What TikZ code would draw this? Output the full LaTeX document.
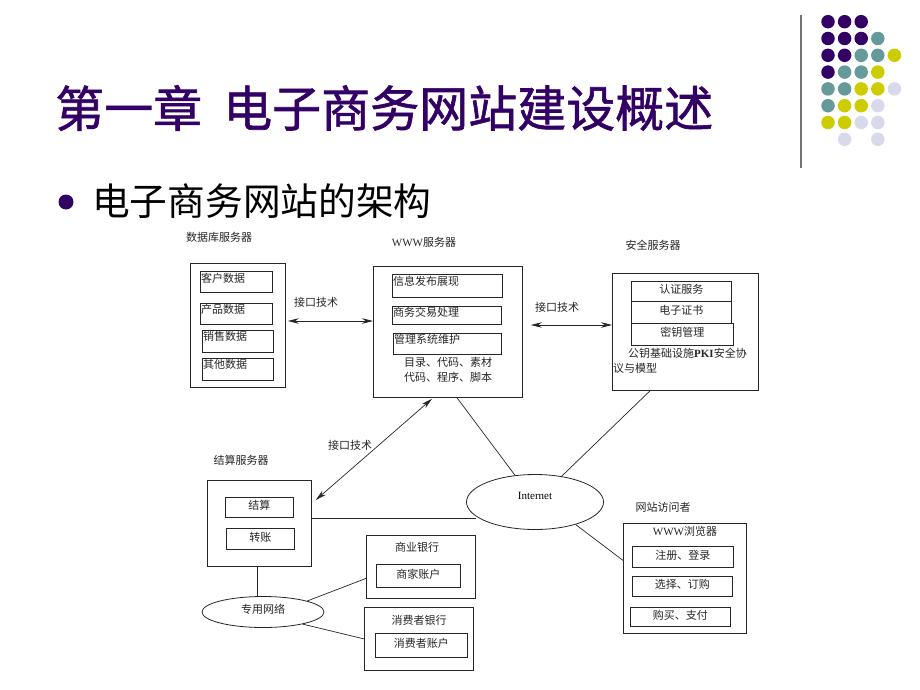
\documentclass[tikz,border=0pt]{standalone}
\usepackage{fontspec}
\setmainfont{Liberation Serif}
\newfontfamily\cjk{Noto Sans CJK SC}
\newfontfamily\cjkt[FakeBold=1.2]{Noto Sans CJK SC}
\newfontfamily\tnr{Liberation Serif}
\usetikzlibrary{arrows.meta,shapes.geometric}
\definecolor{tpurple}{HTML}{330066}
\definecolor{dteal}{HTML}{669999}
\definecolor{dyellow}{HTML}{CCCC00}
\definecolor{dlav}{HTML}{D9D9EC}
\begin{document}
\begin{tikzpicture}[x=1pt,y=-1pt,
  box/.style={draw=black!85, line width=0.8pt, inner sep=0pt, anchor=north west},
  ibox/.style={draw=black!85, line width=0.9pt, inner sep=0pt, anchor=north west},
  lbl/.style={font=\cjk\fontsize{11}{13}\selectfont, inner sep=0pt, text=black!85},
  tl/.style={lbl, anchor=north west, xshift=1pt, yshift=-1.5pt},
  ct/.style={lbl, yshift=2pt},
  link/.style={draw=black!85, line width=0.7pt},
  dbl/.style={link, {Stealth[length=11pt,width=5.5pt]}-{Stealth[length=11pt,width=5.5pt]}},
  oval/.style={ellipse, draw=black!85, line width=0.8pt, inner sep=0pt},
  dot/.style={circle, inner sep=0pt, minimum size=13.5pt}]
\useasboundingbox (0,0) rectangle (920,690);
\fill[white] (0,0) rectangle (920,690);

% decoration
\draw[black!55, line width=1.6pt] (801,15) -- (801,168);
\foreach \r/\i/\col in {
  0/0/tpurple,0/1/tpurple,0/2/tpurple,
  1/0/tpurple,1/1/tpurple,1/2/tpurple,1/3/dteal,
  2/0/tpurple,2/1/tpurple,2/2/dteal,2/3/dteal,2/4/dyellow,
  3/0/tpurple,3/1/dteal,3/2/dteal,3/3/dyellow,
  4/0/dteal,4/1/dteal,4/2/dyellow,4/3/dyellow,4/4/dlav,
  5/0/dteal,5/1/dyellow,5/2/dyellow,5/3/dlav,
  6/0/dyellow,6/1/dyellow,6/2/dlav,6/3/dlav,
  7/1/dlav,7/3/dlav}{
  \node[dot, fill=\col] (d\r\i) at (828+16.6*\i, 21.7+16.8*\r) {};
}

% title
\node[font=\cjkt\fontsize{49}{55}\selectfont, text=tpurple, anchor=west, inner sep=0pt] (t1) at (55,108) {第一章};
\node[font=\cjkt\fontsize{49}{55}\selectfont, text=tpurple, anchor=west, inner sep=0pt] (t2) at (223,108) {电子商务网站建设概述};
\node[circle, fill=tpurple, inner sep=0pt, minimum size=15pt] (bul) at (66,202) {};
\node[font=\cjk\fontsize{37.7}{42}\selectfont, anchor=west, inner sep=0pt] (sub) at (92,201) {电子商务网站的架构};

% database server
\node[lbl] (dbl) at (219,237) {数据库服务器};
\node[box, minimum width=95pt, minimum height=124pt] (db) at (190,263) {};
\node[ibox, minimum width=72pt, minimum height=21pt] (c1) at (200,271) {};
\node[ibox, minimum width=72pt, minimum height=21pt] (c2) at (200,303) {};
\node[ibox, minimum width=71pt, minimum height=22pt] (c3) at (202,330) {};
\node[ibox, minimum width=71pt, minimum height=22pt] (c4) at (202,358) {};
\node[tl] (c1t) at (c1.north west) {客户数据};
\node[tl] (c2t) at (c2.north west) {产品数据};
\node[tl] (c3t) at (c3.north west) {销售数据};
\node[tl] (c4t) at (c4.north west) {其他数据};

% WWW server
\node[lbl] (wwwl) at (424,242) {{\tnr WWW}服务器};
\node[box, minimum width=149pt, minimum height=131pt] (www) at (373,266) {};
\node[ibox, minimum width=110pt, minimum height=23pt] (w1) at (392,274) {};
\node[ibox, minimum width=109pt, minimum height=18pt] (w2) at (392,306) {};
\node[ibox, minimum width=108pt, minimum height=21pt] (w3) at (393,333) {};
\node[tl] (w1t) at (w1.north west) {信息发布展现};
\node[tl, yshift=1pt] (w2t) at (w2.north west) {商务交易处理};
\node[tl] (w3t) at (w3.north west) {管理系统维护};
\node[lbl] (wt1) at (448,362) {目录、代码、素材};
\node[lbl] (wt2) at (448,377) {代码、程序、脚本};

% security server
\node[lbl] (secl) at (653,245) {安全服务器};
\node[box, minimum width=146pt, minimum height=117pt] (sec) at (612,273) {};
\node[ibox, minimum width=100pt, minimum height=20pt] (s1) at (631,281) {};
\node[ibox, minimum width=100pt, minimum height=22pt] (s2) at (631,301) {};
\node[ibox, minimum width=102pt, minimum height=22pt] (s3) at (631,323) {};
\node[ct] (s1t) at (s1.center) {认证服务};
\node[ct] (s2t) at (s2.center) {电子证书};
\node[ct] (s3t) at (s3.center) {密钥管理};
\node[lbl, anchor=west] (st1) at (628,353) {公钥基础设施{\tnr\bfseries PKI}安全协};
\node[lbl, anchor=west] (st2) at (613,368) {议与模型};

% settlement server
\node[lbl] (setl) at (241,460) {结算服务器};
\node[box, minimum width=104pt, minimum height=86pt] (settle) at (207,480) {};
\node[ibox, minimum width=68pt, minimum height=20pt] (x1) at (225,497) {};
\node[ibox, minimum width=68pt, minimum height=21pt] (x2) at (226,528) {};
\node[ct] (x1t) at (x1.center) {结算};
\node[ct] (x2t) at (x2.center) {转账};

% banks
\node[box, minimum width=109pt, minimum height=63pt] (bank1) at (366,535) {};
\node[lbl] (bank1l) at (417,547) {商业银行};
\node[ibox, minimum width=84pt, minimum height=23pt] (b1) at (376,564) {};
\node[ct] (b1t) at (b1.center) {商家账户};
\node[box, minimum width=109pt, minimum height=63pt] (bank2) at (364,607) {};
\node[lbl] (bank2l) at (419,620) {消费者银行};
\node[ibox, minimum width=92pt, minimum height=24pt] (b2) at (375,633) {};
\node[ct] (b2t) at (b2.center) {消费者账户};

% visitor
\node[lbl] (visl) at (663,507) {网站访问者};
\node[box, minimum width=123pt, minimum height=110pt] (vis) at (623,523) {};
\node[lbl] (visb) at (685,531) {{\tnr WWW}浏览器};
\node[ibox, minimum width=101pt, minimum height=21pt] (v1) at (632,546) {};
\node[ibox, minimum width=100pt, minimum height=20pt] (v2) at (632,576) {};
\node[ibox, minimum width=100pt, minimum height=19pt] (v3) at (630,607) {};
\node[ct] (v1t) at (v1.center) {注册、登录};
\node[ct] (v2t) at (v2.center) {选择、订购};
\node[ct] (v3t) at (v3.center) {购买、支付};

% ellipses
\node[oval, minimum width=137pt, minimum height=55pt] (inet) at (535,502) {};
\node[font=\tnr\fontsize{11}{13}\selectfont, inner sep=0pt] (inett) at (535,496) {Internet};
\node[oval, minimum width=122pt, minimum height=31pt] (pnet) at (263,612) {};
\node[lbl] (pnett) at (263,609) {专用网络};

% connectors
\draw[dbl] ([xshift=2pt,yshift=-58pt]db.north east) -- ([yshift=-55pt]www.north west);
\node[lbl] (k1) at (316,302) {接口技术};
\draw[dbl] ([xshift=8pt,yshift=-59pt]www.north east) -- ([yshift=-52pt]sec.north west);
\node[lbl] (k2) at (557,307) {接口技术};
\draw[dbl] ([xshift=59pt,yshift=-1pt]www.south west) -- ([xshift=4pt,yshift=-20pt]settle.north east);
\node[lbl] (k3) at (350,445) {接口技术};
\draw[link] ([xshift=84pt]www.south west) -- (inet);
\draw[link] ([xshift=38pt]sec.south west) -- (inet);
\coordinate (ie) at (476,518);
\draw[link] ([yshift=-38pt]settle.north east) -- (ie);
\draw[link] (inet.-29) -- ([yshift=18pt]vis.west);
\draw[link] ([xshift=-2pt]settle.south) -- ([xshift=-2pt]settle.south |- pnet.north);
\draw[link] (pnet.14) -- ([yshift=-11.5pt]bank1.west);
\draw[link] (pnet.-17) -- (bank2.west);
\end{tikzpicture}
\end{document}
